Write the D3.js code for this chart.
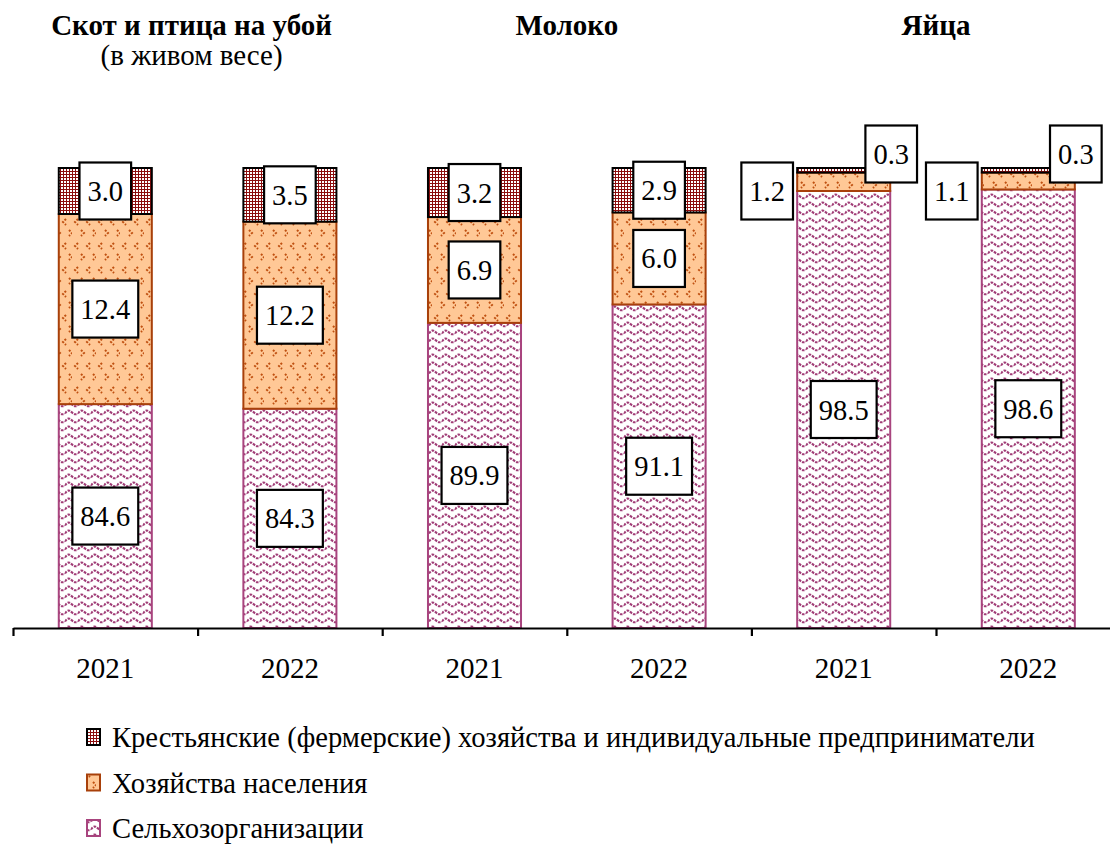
<!DOCTYPE html>
<html><head><meta charset="utf-8">
<script src="https://cdn.jsdelivr.net/npm/d3@7"></script>
</head>
<body style="margin:0;background:#fff"><svg id="c" width="1110" height="844" style="display:block"></svg>
<script>
// ---- data ----
const categories = ["2021","2022","2021","2022","2021","2022"];
const groupTitles = ["Скот и птица на убой","Молоко","Яйца"];
const groupSubtitles = ["(в живом весе)","",""];
const agriOrgs   = [84.6, 84.3, 89.9, 91.1, 98.5, 98.6];
const households = [12.4, 12.2, 6.9, 6.0, 1.2, 1.1];
const farmers    = [3.0, 3.5, 3.2, 2.9, 0.3, 0.3];
const seriesNames = ["Крестьянские (фермерские) хозяйства и индивидуальные предприниматели","Хозяйства населения","Сельхозорганизации"];
const yDomain = [70, 100];

const svg = d3.select("#c");
const left = 13, step = 184.6, plotTop = 168, plotBottom = 628;
const FONT = "Liberation Serif";

// ---- patterns ----
const defs = svg.append("defs");
const pC = defs.append("pattern").attr("id","pFarm").attr("patternUnits","userSpaceOnUse").attr("width",6).attr("height",6);
pC.append("rect").attr("width",6).attr("height",6).attr("fill","#8c0d0d");
[[1,1],[4,4],[4,1],[1,4]].forEach(([a,b]) => pC.append("rect").attr("x",a).attr("y",b).attr("width",2).attr("height",2).attr("fill","#fff"));

const pH = defs.append("pattern").attr("id","pHouse").attr("patternUnits","userSpaceOnUse").attr("width",24).attr("height",24);
pH.append("rect").attr("width",24).attr("height",24).attr("fill","#ffc896");
const markC = "#c05010";
[[3,3,"<"],[15,3,"<"],[9,14,">"],[21,14,">"]].forEach(([x,y,t])=>{
  const d = t==="<" ? `M${x+3},${y} L${x},${y+3} L${x+3},${y+6}` : `M${x},${y} L${x+3},${y+3} L${x},${y+6}`;
  pH.append("path").attr("d",d).attr("fill","none").attr("stroke",markC).attr("stroke-width",2).attr("stroke-dasharray","2,1.5");
});

const pA = defs.append("pattern").attr("id","pAgri").attr("patternUnits","userSpaceOnUse").attr("width",13).attr("height",8);
pA.append("rect").attr("width",13).attr("height",8).attr("fill","#fff");
pA.append("path").attr("d","M0,5.5 Q3.25,0.5 6.5,4 T13,5.5").attr("fill","none").attr("stroke","#a03c76").attr("stroke-width",2.2).attr("stroke-dasharray","2.6,1.1");

const fills = {agri:"url(#pAgri)", house:"url(#pHouse)", farm:"url(#pFarm)"};
const strokes = {agri:"#a8447e", house:"#a8400a", farm:"#000"};

// ---- scales ----
const idx = d3.range(categories.length);
const x = d3.scaleBand().domain(idx).range([left, left + step*categories.length]).paddingInner(0.496).paddingOuter(0.248);
const y = d3.scaleLinear().domain(yDomain).range([plotBottom, plotTop]).clamp(true);

const rows = idx.map(i => ({i, agri: agriOrgs[i], house: households[i], farm: farmers[i]}));
const keys = ["agri","house","farm"];
const stack = d3.stack().keys(keys)(rows);

// ---- bars ----
const layers = svg.append("g").selectAll("g").data(stack).join("g");
layers.each(function(layer){
  d3.select(this).selectAll("rect").data(layer).join("rect")
    .attr("x", d => x(d.data.i))
    .attr("width", x.bandwidth())
    .attr("y", d => y(d[1]))
    .attr("height", d => y(d[0]) - y(d[1]))
    .attr("fill", fills[layer.key])
    .attr("stroke", strokes[layer.key])
    .attr("stroke-width", 2);
});

// ---- axis ----
const xLin = d3.scaleLinear().domain([0, categories.length]).range([left, left + step*categories.length]);
const axG = svg.append("g").attr("transform",`translate(0,${plotBottom})`)
  .call(d3.axisBottom(xLin).ticks(categories.length).tickFormat("").tickSizeInner(8).tickSizeOuter(0));
axG.select(".domain").attr("stroke","#000").attr("stroke-width",2.2);
axG.selectAll(".tick line").attr("stroke","#000").attr("stroke-width",2.2);

const labAx = svg.append("g").attr("transform",`translate(0,${plotBottom})`)
  .call(d3.axisBottom(x).tickSize(0).tickFormat(i => categories[i]));
labAx.attr("font-family", FONT).attr("font-size", 29);
labAx.select(".domain").remove();
labAx.selectAll("text").attr("fill","#000").attr("dy",0).attr("y",50);

// ---- data labels ----
const lab = svg.append("g");
function boxLabel(cx, cy, txt){
  const g = lab.append("g");
  const t = g.append("text").attr("x",cx).attr("y",cy+10).attr("text-anchor","middle")
    .attr("font-family",FONT).attr("font-size",28.5).attr("fill","#000").text(txt);
  const w = t.node().getComputedTextLength() + 16;
  g.insert("rect","text").attr("x",cx - w/2).attr("y",cy - 28.5).attr("width",w).attr("height",57)
    .attr("fill","#fff").attr("stroke","#000").attr("stroke-width",2.2);
}
stack.forEach(layer => {
  layer.forEach(d => {
    const i = d.data.i;
    const v = d.data[layer.key];
    let cx = x(i) + x.bandwidth()/2;
    let cy = (y(d[0]) + y(d[1]))/2;
    if (i >= 4 && layer.key === "house") { cx = x(i) - 30; cy = y(yDomain[1]) + 23; }
    if (i >= 4 && layer.key === "farm")  { cx = x(i) + x.bandwidth() + 1; cy = y(yDomain[1]) - 14; }
    boxLabel(cx, cy, v.toFixed(1));
  });
});

// ---- group titles ----
groupTitles.forEach((t, g) => {
  const cx = (x(2*g) + x(2*g+1) + x.bandwidth())/2 - (g===0 ? 6 : 0);
  svg.append("text").attr("x",cx).attr("y",35).attr("text-anchor","middle").attr("font-family",FONT)
    .attr("font-size",29).attr("font-weight","bold").text(t);
  if (groupSubtitles[g]) svg.append("text").attr("x",cx).attr("y",65).attr("text-anchor","middle").attr("font-family",FONT)
    .attr("font-size",29).text(groupSubtitles[g]);
});

// ---- legend ----
const legKeys = ["farm","house","agri"];
const leg = svg.append("g");
legKeys.forEach((k, j) => {
  const yy = 747 + j*45.5;
  leg.append("rect").attr("x",87).attr("y",yy-18).attr("width",13).attr("height",16)
    .attr("fill",fills[k]).attr("stroke",strokes[k]).attr("stroke-width",2);
  leg.append("text").attr("x",112).attr("y",yy).attr("font-family",FONT).attr("font-size",28.6).text(seriesNames[j]);
});
</script></body></html>
